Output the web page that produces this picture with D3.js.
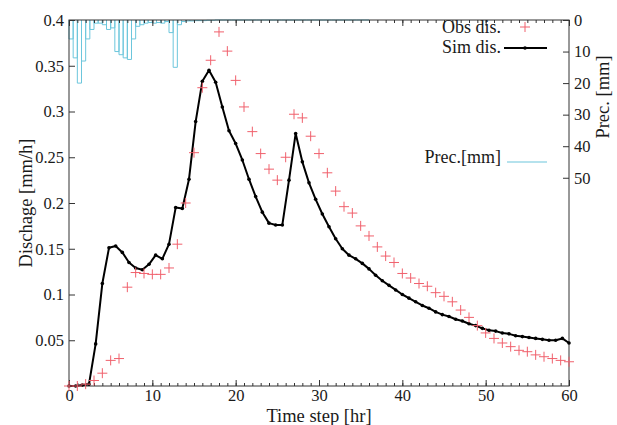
<!DOCTYPE html>
<html>
<head>
<meta charset="utf-8">
<script src="https://cdn.jsdelivr.net/npm/d3@7"></script>
<style>
  html, body { margin: 0; padding: 0; background: #fff; }
  svg text { font-family: "Liberation Serif", "DejaVu Serif", serif; fill: #1a1a1a; }
</style>
</head>
<body>
<svg id="chart" width="617" height="425"></svg>
<script>
// Observed discharge, hourly [mm/h], t = 0..60
const obsDischarge = [
  0, 0, 0.002, 0.006, 0.014, 0.028, 0.030, 0.108, 0.124, 0.123,
  0.122, 0.122, 0.129, 0.155, 0.200, 0.255, 0.326, 0.356, 0.387, 0.366,
  0.334, 0.305, 0.278, 0.254, 0.237, 0.225, 0.250, 0.297, 0.293, 0.273,
  0.254, 0.233, 0.213, 0.196, 0.189, 0.175, 0.164, 0.152, 0.142, 0.135,
  0.123, 0.118, 0.112, 0.109, 0.102, 0.098, 0.092, 0.083, 0.075, 0.066,
  0.058, 0.052, 0.047, 0.043, 0.039, 0.0375, 0.034, 0.032, 0.030, 0.028,
  0.0265
];
const obsStep = 1;

// Simulated discharge [mm/h], one value every 0.8 h from t = 0 to 60
const simDischarge = [
  0, 0, 0.001, 0.002, 0.046, 0.112, 0.151, 0.153, 0.146, 0.135,
  0.129, 0.127, 0.133, 0.143, 0.139, 0.155, 0.195, 0.194, 0.226, 0.289,
  0.333, 0.345, 0.332, 0.305, 0.279, 0.265, 0.247, 0.226, 0.207, 0.190,
  0.178, 0.176, 0.176, 0.225, 0.276, 0.245, 0.222, 0.204, 0.188, 0.174,
  0.161, 0.150, 0.143, 0.139, 0.134, 0.128, 0.121, 0.115, 0.110, 0.105,
  0.100, 0.096, 0.092, 0.088, 0.085, 0.081, 0.078, 0.076, 0.073, 0.071,
  0.068, 0.066, 0.063, 0.061, 0.060, 0.058, 0.057, 0.055, 0.054, 0.053,
  0.052, 0.051, 0.050, 0.050, 0.052, 0.047
];
const simStep = 0.8;

// Precipitation [mm], half-hour totals starting at t = 0
const precipitation = [
  6, 12, 20, 13, 6, 3, 1, 1, 1.5, 3,
  2.5, 10, 11, 12, 12.5, 6, 2, 1.5, 1, 0.8,
  1, 0.8, 1, 0.5, 4, 15, 1.5, 0.5, 0.3, 0.3,
  0.2, 0.2, 0.2, 0.1, 0.1, 0, 0, 0, 0, 0,
  0, 0, 0, 0, 0, 0, 0, 0, 0, 0,
  0, 0, 0, 0, 0, 0, 0, 0, 0, 0,
  0, 0, 0, 0, 0, 0, 0, 0, 0, 0,
  0, 0
];
const precipStep = 0.5;

// Axis ticks
const xTicks = [0, 10, 20, 30, 40, 50, 60];
const yTicks = [0, 0.05, 0.1, 0.15, 0.2, 0.25, 0.3, 0.35, 0.4];
const y2Ticks = [0, 10, 20, 30, 40, 50];

const legendLabels = { obs: "Obs dis.", sim: "Sim dis.", prec: "Prec.[mm]" };

const colObs = "#f0606c";
const colSim = "#000";
const colPrec = "#6cc6dc";

const svg = d3.select("#chart");
const plotLeft = 69, plotRight = 569, plotTop = 20, plotBottom = 386;

const x = d3.scaleLinear().domain([0, 60]).range([plotLeft, plotRight]);
const y = d3.scaleLinear().domain([0, 0.4]).range([plotBottom, plotTop]);
const y2 = d3.scaleLinear().domain([0, 116]).range([plotTop, plotBottom]);

const tickFont = 16.5;
const legendFont = 18;
const titleFont = 18.5;

// Precipitation boxes hanging from the top axis
svg.append("g")
  .attr("fill", "none")
  .attr("stroke", colPrec)
  .attr("stroke-width", 1)
  .selectAll("path")
  .data(precipitation)
  .join("path")
  .attr("d", (v, i) => {
    const x0 = x(i * precipStep), x1 = x((i + 1) * precipStep);
    return `M${x0},${y2(0)}V${y2(v)}H${x1}V${y2(0)}`;
  });

// Frame
svg.append("rect")
  .attr("x", plotLeft).attr("y", plotTop)
  .attr("width", plotRight - plotLeft).attr("height", plotBottom - plotTop)
  .attr("fill", "none").attr("stroke", "#333").attr("stroke-width", 1);

function styleAxis(g) {
  g.select(".domain").remove();
  g.selectAll(".tick line").attr("stroke", "#333");
  g.selectAll("text").attr("font-size", tickFont).attr("fill", "#1a1a1a")
    .attr("font-family", "Liberation Serif");
}

// Bottom axis, major and minor ticks
svg.append("g").attr("transform", `translate(0,${plotBottom})`)
  .call(d3.axisBottom(x).tickValues(xTicks).tickSize(-6).tickPadding(3).tickFormat(d3.format("d")))
  .call(styleAxis);
svg.append("g").attr("transform", `translate(0,${plotBottom})`)
  .call(d3.axisBottom(x).tickValues(d3.range(0, 61, 1)).tickSize(-3).tickFormat(""))
  .call(styleAxis);

// Top mirror ticks
svg.append("g").attr("transform", `translate(0,${plotTop})`)
  .call(d3.axisTop(x).tickValues(xTicks).tickSize(-6).tickFormat(""))
  .call(styleAxis);
svg.append("g").attr("transform", `translate(0,${plotTop})`)
  .call(d3.axisTop(x).tickValues(d3.range(0, 61, 1)).tickSize(-3).tickFormat(""))
  .call(styleAxis);

// Left axis (discharge)
svg.append("g").attr("transform", `translate(${plotLeft},0)`)
  .call(d3.axisLeft(y).tickValues(yTicks).tickSize(-6).tickPadding(5)
    .tickFormat(v => v === 0 ? "" : String(+v.toFixed(2))))
  .call(styleAxis);

// Right axis (precipitation, reversed)
svg.append("g").attr("transform", `translate(${plotRight},0)`)
  .call(d3.axisRight(y2).tickValues(y2Ticks).tickSize(-6).tickPadding(5).tickFormat(d3.format("d")))
  .call(styleAxis);

// Simulated discharge line with point markers
const simPts = simDischarge.map((v, i) => [i * simStep, v]);
svg.append("path")
  .datum(simPts)
  .attr("fill", "none")
  .attr("stroke", colSim)
  .attr("stroke-width", 2)
  .attr("stroke-linejoin", "round")
  .attr("d", d3.line().x(d => x(d[0])).y(d => y(d[1])));
svg.append("g").selectAll("circle")
  .data(simPts)
  .join("circle")
  .attr("cx", d => x(d[0])).attr("cy", d => y(d[1]))
  .attr("r", 1.8).attr("fill", colSim);

// Observed discharge as plus markers
const plus = (cx, cy, s) => `M${cx - s},${cy}H${cx + s}M${cx},${cy - s}V${cy + s}`;
svg.append("g")
  .attr("stroke", colObs).attr("stroke-width", 1).attr("fill", "none")
  .selectAll("path")
  .data(obsDischarge)
  .join("path")
  .attr("d", (v, i) => plus(x(i * obsStep), y(v), 5));

// Legend
const lg = svg.append("g").attr("font-size", legendFont);
lg.append("text").attr("x", 501).attr("y", 27).attr("dy", "0.35em")
  .attr("text-anchor", "end").text(legendLabels.obs);
lg.append("path").attr("d", plus(525, 27, 5))
  .attr("stroke", colObs).attr("stroke-width", 1);

lg.append("text").attr("x", 501).attr("y", 47).attr("dy", "0.35em")
  .attr("text-anchor", "end").text(legendLabels.sim);
lg.append("line").attr("x1", 504).attr("x2", 547).attr("y1", 48).attr("y2", 48)
  .attr("stroke", colSim).attr("stroke-width", 2);
lg.append("circle").attr("cx", 525).attr("cy", 48).attr("r", 1.8).attr("fill", colSim);

lg.append("text").attr("x", 501).attr("y", 157).attr("dy", "0.35em")
  .attr("text-anchor", "end").text(legendLabels.prec);
lg.append("line").attr("x1", 507).attr("x2", 547).attr("y1", 162).attr("y2", 162)
  .attr("stroke", colPrec).attr("stroke-width", 1.2);

// Axis titles
svg.append("text")
  .attr("x", (plotLeft + plotRight) / 2).attr("y", 416).attr("dy", "0.35em")
  .attr("text-anchor", "middle").attr("font-size", titleFont)
  .text("Time step [hr]");
svg.append("text")
  .attr("transform", "translate(26,203) rotate(-90)").attr("dy", "0.35em")
  .attr("text-anchor", "middle").attr("font-size", titleFont)
  .text("Dischage [mm/h]");
svg.append("text")
  .attr("transform", "translate(603,97) rotate(-90)").attr("dy", "0.35em")
  .attr("text-anchor", "middle").attr("font-size", titleFont)
  .text("Prec. [mm]");
</script>
</body>
</html>
